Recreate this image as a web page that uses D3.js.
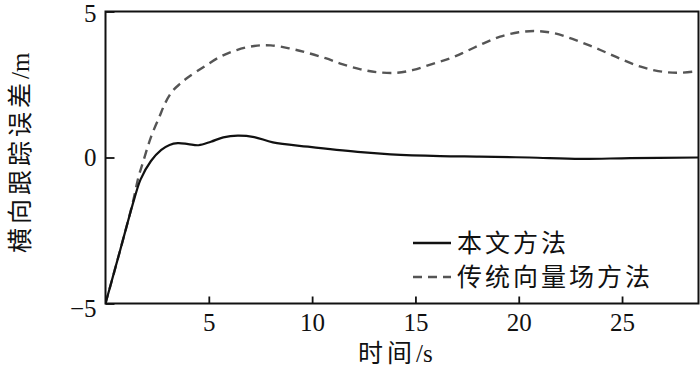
<!DOCTYPE html>
<html>
<head>
<meta charset="utf-8">
<script src="https://cdn.jsdelivr.net/npm/d3@7"></script>
<style>
  body { margin: 0; background: #fff; }
  svg { display: block; }
</style>
</head>
<body>
<div id="chart"></div>
<script>
// Series: 本文方法 (solid)
const oursTime = [0, 0.7, 1.4, 1.7, 2.2, 2.7, 3.1, 3.5, 4.0, 4.5, 5.1, 5.7, 6.4, 7.2, 8.1, 9.8, 12.2, 13.8, 16.2, 18.1, 20.5, 23.0, 25.4, 28.7];
const oursError = [-5, -3.2, -1.4, -0.75, -0.12, 0.26, 0.43, 0.49, 0.46, 0.42, 0.54, 0.69, 0.75, 0.70, 0.52, 0.37, 0.19, 0.11, 0.05, 0.03, 0.0, -0.05, -0.02, 0.0];

// Series: 传统向量场方法 (dashed)
const vfTime = [0, 0.7, 1.3, 1.6, 1.8, 2.2, 2.6, 2.9, 3.25, 3.6, 3.95, 4.75, 5.55, 6.35, 7.2, 8.0, 8.95, 9.75, 10.65, 11.45, 12.35, 13.15, 14.1, 14.9, 15.8, 16.7, 17.5, 18.3, 19.1, 20.0, 20.85, 21.75, 22.6, 23.45, 24.25, 25.05, 25.9, 26.75, 27.65, 28.7];
const vfError = [-5, -3.2, -1.6, -0.66, -0.2, 0.7, 1.38, 1.88, 2.28, 2.52, 2.72, 3.1, 3.45, 3.68, 3.82, 3.84, 3.73, 3.59, 3.4, 3.2, 3.02, 2.92, 2.9, 3.0, 3.2, 3.4, 3.65, 3.91, 4.14, 4.29, 4.33, 4.25, 4.06, 3.83, 3.59, 3.34, 3.11, 2.96, 2.9, 2.96];

const xTicks = [5, 10, 15, 20, 25];
const yTicks = [-5, 0, 5];
const legendLabels = ['本文方法', '传统向量场方法'];

const width = 700, height = 370;
const margin = { top: 11.5, right: 1.5, bottom: 66.5, left: 105.5 };
const innerW = width - margin.left - margin.right;
const innerH = height - margin.top - margin.bottom;

const serif = '"Liberation Serif", "Times New Roman", serif';
const cjk = '"Noto Sans CJK SC", sans-serif';

const svg = d3.select('#chart').append('svg')
    .attr('width', width)
    .attr('height', height);

const scaleX = d3.scaleLinear([0, 28.7], [0, innerW]);
const scaleY = d3.scaleLinear([-5, 5], [innerH, 0]);

const chart = svg.append('g')
    .attr('transform', `translate(${margin.left},${margin.top})`);

chart.append('clipPath').attr('id', 'clip')
    .append('rect').attr('width', innerW).attr('height', innerH);

// Axes with inward ticks
const axisX = chart.append('g')
    .attr('transform', `translate(0,${innerH})`)
    .call(d3.axisBottom(scaleX).tickValues(xTicks).tickSizeInner(-7).tickSizeOuter(0).tickPadding(10));
const axisY = chart.append('g')
    .call(d3.axisLeft(scaleY).tickValues(yTicks).tickSizeInner(-9).tickSizeOuter(0).tickPadding(9)
        .tickFormat(d => d < 0 ? '\u2212' + Math.abs(d) : d));
[axisX, axisY].forEach(a => {
    a.select('.domain').remove();
    a.selectAll('.tick line').attr('stroke', '#111').attr('stroke-width', 1.8);
    a.selectAll('.tick text')
        .style('font-family', serif)
        .style('font-size', '25px')
        .attr('fill', '#111');
});
// end labels sit a little lower than their ticks in the original
axisY.selectAll('.tick text').filter(d => d === -5).attr('dy', '0.5em');
axisY.selectAll('.tick text').filter(d => d === 5).attr('dy', '0.4em');

const line = d3.line()
    .x(d => scaleX(d[0]))
    .y(d => scaleY(d[1]))
    .curve(d3.curveCatmullRom.alpha(0.5));

const vfData = vfTime.map((t, i) => [t, vfError[i]]);
const oursData = oursTime.map((t, i) => [t, oursError[i]]);

const lines = chart.append('g').attr('clip-path', 'url(#clip)');
lines.append('path')
    .attr('d', line(vfData))
    .attr('fill', 'none')
    .attr('stroke', '#555')
    .attr('stroke-width', 2.4)
    .attr('stroke-dasharray', '9,6');
lines.append('path')
    .attr('d', line(oursData))
    .attr('fill', 'none')
    .attr('stroke', '#111')
    .attr('stroke-width', 2.2);

// Frame
chart.append('rect')
    .attr('width', innerW)
    .attr('height', innerH)
    .attr('fill', 'none')
    .attr('stroke', '#111')
    .attr('stroke-width', 2);

// Legend
const legend = svg.append('g');
const legendRows = [
    { y: 243, dash: null, color: '#111' },
    { y: 277, dash: '9,6', color: '#555' }
];
legendRows.forEach((r, i) => {
    legend.append('line')
        .attr('x1', 413).attr('x2', 451)
        .attr('y1', r.y).attr('y2', r.y)
        .attr('stroke', r.color)
        .attr('stroke-width', 2.4)
        .attr('stroke-dasharray', r.dash);
    legend.append('text')
        .style('font-family', cjk)
        .style('font-size', '25px')
        .attr('x', 457)
        .attr('y', r.y + 9)
        .attr('letter-spacing', 3)
        .attr('fill', '#111')
        .text(legendLabels[i]);
});

// Axis titles
const titleX = svg.append('text')
    .attr('x', 358)
    .attr('y', 362)
    .attr('fill', '#111');
titleX.append('tspan').style('font-family', cjk).style('font-size', '25px').attr('letter-spacing', 4).text('时间');
titleX.append('tspan').style('font-family', serif).style('font-size', '25px').text('/s');

const titleY = svg.append('text')
    .attr('transform', 'translate(29,253) rotate(-90)')
    .attr('fill', '#111');
titleY.append('tspan').style('font-family', cjk).style('font-size', '25px').attr('letter-spacing', 4).text('横向跟踪误差');
titleY.append('tspan').style('font-family', serif).style('font-size', '25px').text('/m');
</script>
</body>
</html>
